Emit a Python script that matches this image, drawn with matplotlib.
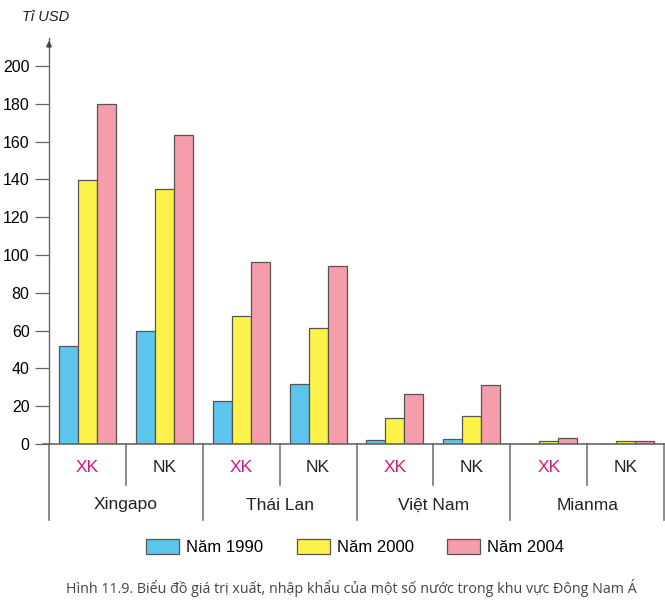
import matplotlib.pyplot as plt
from matplotlib.patches import Patch
from matplotlib.transforms import blended_transform_factory

# -----------------------------
# Data (ti USD)
# -----------------------------
countries = ["Xingapo", "Thái Lan", "Việt Nam", "Mianma"]
flows = ["XK", "NK"]
years = ["Năm 1990", "Năm 2000", "Năm 2004"]

y1990 = [52, 60, 23, 32, 2.2, 2.5, 0, 0]
y2000 = [139.5, 135, 67.5, 61.6, 14, 15, 1.7, 1.7]
y2004 = [180, 163.5, 96.4, 94, 26.4, 31.3, 3, 1.7]

colors = ["#5cc6ec", "#fdf24a", "#f59daa"]
edge = "#555555"
magenta = "#d4197c"

plt.rcParams['font.family'] = ['Liberation Sans', 'DejaVu Sans']

fig = plt.figure(figsize=(6.65, 6.01), dpi=100)
ax = fig.add_axes([49 / 665, 1 - 444 / 601, 615 / 665, (444 - 38) / 601])

w = 0.247
xs = list(range(len(y1990)))
for k, vals in enumerate([y1990, y2000, y2004]):
    ax.bar([x + (k - 1) * w for x in xs], vals, width=w, color=colors[k],
           edgecolor=edge, linewidth=0.9, zorder=2)

ax.set_xlim(-0.5, 7.5)
ax.set_ylim(0, 214.8)
ax.set_yticks(range(0, 201, 20))
ax.set_xticks([])
ax.tick_params(axis='y', direction='out', length=10, width=0.9, color='#666666',
               labelsize=11.5, pad=4)

for s in ["top", "right", "bottom"]:
    ax.spines[s].set_visible(False)
ax.spines["left"].set_color("#666666")
ax.spines["left"].set_linewidth(1.0)

# arrow on the y axis
ax.annotate("", xy=(0, 1.0), xycoords="axes fraction", xytext=(0, 0.97),
            arrowprops=dict(arrowstyle="-|>", color="#444444", lw=1.0,
                            mutation_scale=8))

# x axis line, a bit past the y axis
ax.axhline(0, xmin=-0.01, xmax=1, color="#666666", lw=1.2, clip_on=False, zorder=3)

# separators and labels under the axis
tr = blended_transform_factory(ax.transData, fig.transFigure)
y_axis = 1 - 444 / 601
y_short = 1 - 485 / 601
y_long = 1 - 520 / 601
for i in range(len(xs) + 1):
    xb = i - 0.5
    y_end = y_long if i % 2 == 0 else y_short
    ax.plot([xb, xb], [y_axis, y_end], transform=tr, color="#777777", lw=1.2,
            clip_on=False)

for i in xs:
    f = flows[i % 2]
    ax.text(i, 1 - 467 / 601, f, transform=tr, ha="center", va="center",
            fontsize=12.5, color=magenta if f == "XK" else "#222222")

for j, c in enumerate(countries):
    ax.text(2 * j + 0.5, 1 - 505 / 601, c, transform=tr, ha="center", va="center",
            fontsize=12.5, color="#222222")

fig.text(22 / 665, 1 - 17 / 601, "Tỉ USD", ha="left", va="center", fontsize=10.5,
         style="italic", color="#222222")

handles = [Patch(facecolor=colors[k], edgecolor=edge, linewidth=0.9, label=years[k])
           for k in range(3)]
fig.legend(handles=handles, loc="center", bbox_to_anchor=(355 / 665, 1 - 547 / 601),
           ncol=3, frameon=False, fontsize=12, handlelength=2.0, handleheight=1.0,
           handletextpad=0.4, columnspacing=2.0)

fig.text(351 / 665, 1 - 588 / 601,
         "Hình 11.9. Biểu đồ giá trị xuất, nhập khẩu của một số nước trong khu vực Đông Nam Á",
         ha="center", va="center", fontsize=10.3, color="#444444",
         family=["Open Sans", "DejaVu Sans"])

fig.savefig("out.png", dpi=100)
